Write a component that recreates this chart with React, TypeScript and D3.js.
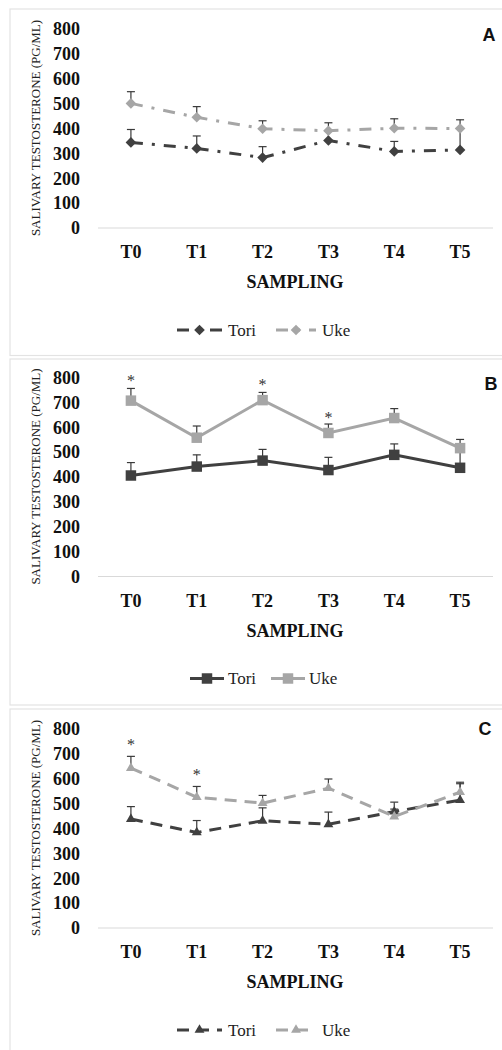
import React from "react";
import * as d3 from "d3";

const categories = ["T0", "T1", "T2", "T3", "T4", "T5"];
const yTicks = [0, 100, 200, 300, 400, 500, 600, 700, 800];
const seriesNames = ["Tori", "Uke"];

// Panel A
const toriA = [344, 320, 283, 352, 308, 314];
const toriAErr = [52, 50, 44, 38, 40, 86];
const ukeA = [501, 445, 399, 391, 401, 400];
const ukeAErr = [47, 43, 32, 32, 38, 35];
const starsA: (number | null)[] = [null, null, null, null, null, null];

// Panel B
const toriB = [406, 442, 466, 428, 489, 437];
const toriBErr = [52, 47, 45, 51, 44, 78];
const ukeB = [707, 558, 709, 577, 637, 516];
const ukeBErr = [49, 47, 31, 36, 38, 35];
const starsB: (number | null)[] = [797, null, 781, 648, null, null];

// Panel C
const toriC = [438, 384, 431, 417, 468, 514];
const toriCErr = [50, 48, 52, 49, 38, 66];
const ukeC = [643, 526, 502, 562, 448, 546];
const ukeCErr = [47, 43, 31, 37, 30, 40];
const starsC: (number | null)[] = [746, 627, null, null, null, null];

const DARK = "#404040";
const LIGHT = "#a6a6a6";
const SERIF = "'Liberation Serif', 'Times New Roman', serif";
const SANS = "'Liberation Sans', Arial, sans-serif";

type Marker = "diamond" | "square" | "triangle";

interface PanelCfg {
  label: string;
  offset: number;
  top: number;
  bottom: number;
  tori: number[];
  toriErr: number[];
  uke: number[];
  ukeErr: number[];
  stars: (number | null)[];
  marker: Marker;
  dash: string;
  labelX: number;
  labelY: number;
  legend: { x1: number; x2: number; tx: number }[];
}

const panels: PanelCfg[] = [
  {
    label: "A", offset: 0, top: 9, bottom: 355.5,
    tori: toriA, toriErr: toriAErr, uke: ukeA, ukeErr: ukeAErr, stars: starsA,
    marker: "diamond", dash: "12,9,3,9", labelX: 489, labelY: 41,
    legend: [{ x1: 177, x2: 222, tx: 228 }, { x1: 276, x2: 316, tx: 322 }],
  },
  {
    label: "B", offset: 348.5, top: 359, bottom: 705,
    tori: toriB, toriErr: toriBErr, uke: ukeB, ukeErr: ukeBErr, stars: starsB,
    marker: "square", dash: "", labelX: 491, labelY: 390,
    legend: [{ x1: 190, x2: 224, tx: 228 }, { x1: 271, x2: 305, tx: 309 }],
  },
  {
    label: "C", offset: 700, top: 709, bottom: 1051,
    tori: toriC, toriErr: toriCErr, uke: ukeC, ukeErr: ukeCErr, stars: starsC,
    marker: "triangle", dash: "12,8", labelX: 485, labelY: 735,
    legend: [{ x1: 177, x2: 222, tx: 228 }, { x1: 276, x2: 316, tx: 322 }],
  },
];

const x = d3.scaleBand<string>().domain(categories).range([98, 493]).padding(0);
const cx = (c: string) => (x(c) as number) + x.bandwidth() / 2;

function markerPath(m: Marker): string {
  if (m === "diamond") return d3.symbol(d3.symbolDiamond2, 72)() as string;
  if (m === "square") return d3.symbol(d3.symbolSquare, 110)() as string;
  return d3.symbol(d3.symbolTriangle2, 70)() as string;
}

function Panel({ p }: { p: PanelCfg }) {
  const y = d3.scaleLinear().domain([0, 800]).range([228 + p.offset, 29 + p.offset]);
  const line = d3.line<number>().x((_, i) => cx(categories[i])).y((d) => y(d));
  const mp = markerPath(p.marker);
  const series = [
    { name: seriesNames[0], vals: p.tori, err: p.toriErr, color: DARK },
    { name: seriesNames[1], vals: p.uke, err: p.ukeErr, color: LIGHT },
  ];
  return (
    <g>
      <rect x={10} y={p.top} width={500} height={p.bottom - p.top} fill="white" stroke="#e3e3e3" strokeWidth={1.2} />
      {yTicks.map((t) => (
        <text key={t} x={80} y={y(t)} dy="0.35em" textAnchor="end" fontFamily={SERIF} fontWeight="bold" fontSize={18} fill="#111">
          {t}
        </text>
      ))}
      <text transform={`translate(40,${128 + p.offset}) rotate(-90)`} textAnchor="middle" fontFamily={SERIF} fontSize={13} fill="#222">
        SALIVARY TESTOSTERONE (PG/ML)
      </text>
      <line x1={98} x2={493} y1={y(0)} y2={y(0)} stroke="#d9d9d9" strokeWidth={1.2} />
      {categories.map((c) => (
        <text key={c} x={cx(c)} y={258 + p.offset} textAnchor="middle" fontFamily={SERIF} fontWeight="bold" fontSize={18} fill="#111">
          {c}
        </text>
      ))}
      <text x={295} y={288 + p.offset} textAnchor="middle" fontFamily={SERIF} fontWeight="bold" fontSize={18} fill="#111">
        SAMPLING
      </text>
      <text x={p.labelX} y={p.labelY} textAnchor="middle" fontFamily={SANS} fontWeight="bold" fontSize={18} fill="#111">
        {p.label}
      </text>
      {series.map((s) => (
        <g key={s.name}>
          {s.vals.map((v, i) => (
            <g key={i} stroke="#3a3a3a" strokeWidth={1.2}>
              <line x1={cx(categories[i])} x2={cx(categories[i])} y1={y(v)} y2={y(v + s.err[i])} />
              <line x1={cx(categories[i]) - 4} x2={cx(categories[i]) + 4} y1={y(v + s.err[i])} y2={y(v + s.err[i])} />
            </g>
          ))}
          <path d={line(s.vals) as string} fill="none" stroke={s.color} strokeWidth={3} strokeDasharray={p.dash || undefined} />
          {s.vals.map((v, i) => (
            <path key={i} d={mp} transform={`translate(${cx(categories[i])},${y(v)})`} fill={s.color} />
          ))}
        </g>
      ))}
      {p.stars.map((v, i) =>
        v === null ? null : (
          <text key={i} x={cx(categories[i])} y={y(v) + 8} textAnchor="middle" fontFamily={SERIF} fontSize={16} fill="#333">
            *
          </text>
        )
      )}
      {series.map((s, k) => {
        const L = p.legend[k];
        const ly = 330 + p.offset;
        return (
          <g key={s.name}>
            <line x1={L.x1} x2={L.x2} y1={ly} y2={ly} stroke={s.color} strokeWidth={3} strokeDasharray={p.dash || undefined} />
            <path d={mp} transform={`translate(${(L.x1 + L.x2) / 2},${ly})`} fill={s.color} />
            <text x={L.tx} y={ly + 5.5} fontFamily={SERIF} fontSize={17} fill="#222">
              {s.name}
            </text>
          </g>
        );
      })}
    </g>
  );
}

export default function App() {
  return (
    <svg width={502} height={1050} style={{ position: "absolute", left: 0, top: 0, background: "white" }}>
      <rect x={0} y={0} width={502} height={1050} fill="white" />
      {panels.map((p) => (
        <Panel key={p.label} p={p} />
      ))}
    </svg>
  );
}
